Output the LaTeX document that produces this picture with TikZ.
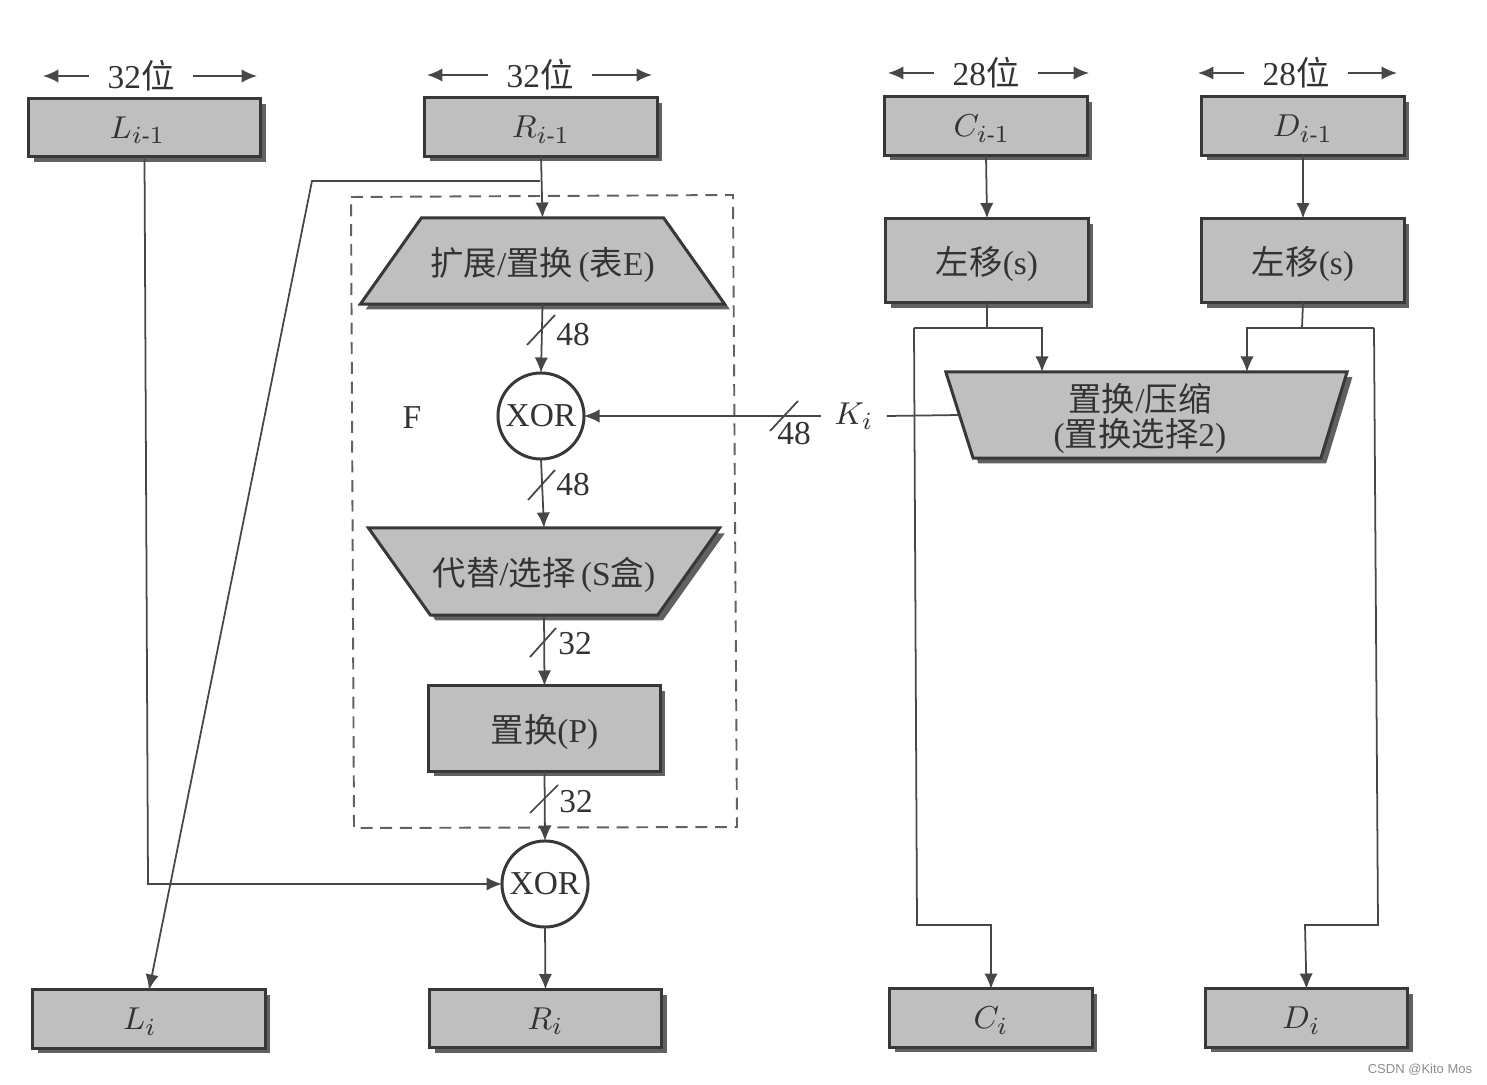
\documentclass[tikz,border=0pt]{standalone}
\usepackage{amsmath}
\usepackage{fontspec}
\setmainfont{Liberation Serif}
\newfontfamily\hzfont{Noto Sans CJK SC}
\newfontfamily\wmfont{Liberation Sans}
\newcommand{\hz}[1]{{\hzfont #1}}
\usetikzlibrary{arrows.meta,shapes.geometric,shadows}

\tikzset{
	inkline/.style={draw=black!72, line width=0.5pt},
	flow/.style={inkline, -{Latex[length=4.4pt,width=3.8pt]}},
	plate/.style={draw=black!78, line width=0.85pt, fill=black!25, text=black!80, inner sep=0pt, outer sep=0pt, text depth=0pt,
		drop shadow={shadow xshift=1.5pt, shadow yshift=-1.5pt, fill=black!62, opacity=1}},
	wordbox/.style={plate, rectangle, minimum width=2.32cm, minimum height=0.58cm},
	halfbox/.style={plate, rectangle, minimum width=2.02cm, minimum height=0.58cm},
	tallbox/.style={plate, rectangle, minimum width=2.02cm, minimum height=0.84cm},
	xorgate/.style={circle, draw=black!78, line width=0.85pt, fill=white, text=black!80, minimum size=0.86cm, inner sep=0pt, outer sep=0pt},
	widthlabel/.style={text=black!80, inner ysep=0pt, inner xsep=0.18cm},
	bitlabel/.style={text=black!80, inner sep=0pt},
}

\begin{document}
\begin{tikzpicture}[x=0.01cm, y=-0.01cm, font=\fontsize{9.5}{11}\selectfont]

	\useasboundingbox (0,0) rectangle (1487,1085);

	% Width marks
	\node[widthlabel] (wL) at (141,76) {32\hz{位}};
	\node[widthlabel] (wR) at (540,75) {32\hz{位}};
	\node[widthlabel] (wC) at (986,73) {28\hz{位}};
	\node[widthlabel] (wD) at (1296,73) {28\hz{位}};
	\coordinate (wLa) at (43,76);
	\coordinate (wLb) at (257,76);
	\coordinate (wRa) at (427,75);
	\coordinate (wRb) at (652,75);
	\coordinate (wCa) at (888,73);
	\coordinate (wCb) at (1089,73);
	\coordinate (wDa) at (1198,73);
	\coordinate (wDb) at (1397,73);
	\foreach \lab/\tipa/\tipb in {wL/wLa/wLb, wR/wRa/wRb, wC/wCa/wCb, wD/wDa/wDb}{
		\draw[flow] (\lab) -- (\tipa);
		\draw[flow] (\lab) -- (\tipb);
	}

	% F function frame
	\draw[black!62, line width=0.55pt, dash pattern=on 3.4pt off 2.2pt]
	(351,197) -- (733,195) -- (737,827) -- (354,828) -- cycle;
	\node[bitlabel] (fLabel) at (412,418) {F};

	% Top registers
	\node[wordbox] (Lold) at (144.5,127.5) {$L_{i\text{-}1}$\hspace*{0.14cm}};
	\node[wordbox] (Rold) at (541,127) {$R_{i\text{-}1}$};
	\node[halfbox] (Cold) at (986,126) {$C_{i\text{-}1}$\hspace*{0.08cm}};
	\node[halfbox] (Dold) at (1303,126) {$D_{i\text{-}1}$};

	% Left shifts
	\node[tallbox] (shiftC) at (987,260.5) {\hz{左移}(s)};
	\node[tallbox] (shiftD) at (1303,260.5) {\hz{左移}(s)};

	% Trapezoid stages
	\node[plate, trapezium, trapezium stretches=true, trapezium left angle=26.5, trapezium right angle=26.5,
	minimum width=3.65cm, minimum height=0.86cm] (expand) at (542.5,261) {\hz{扩展}/\hz{置换}\,(\hz{表}E)};
	\node[plate, trapezium, shape border rotate=180, trapezium stretches=true, trapezium left angle=25, trapezium right angle=25,
	minimum width=3.52cm, minimum height=0.87cm] (subst) at (544,571.5) {\hz{代替}/\hz{选择}\,(S\hz{盒})};
	\node[plate, trapezium, shape border rotate=180, trapezium stretches=true, trapezium left angle=77.5, trapezium right angle=77,
	minimum width=4.02cm, minimum height=0.86cm, align=center] (compress) at (1147,415)
	{\hz{置换}/\hz{压缩}\hspace*{0.14cm}\\[-1pt](\hz{置换选择}2)\hspace*{0.14cm}};
	\node[plate, rectangle, minimum width=2.31cm, minimum height=0.85cm] (perm) at (544.5,728.5) {\hz{置换}(P)};

	% XOR gates
	\node[xorgate] (xorA) at (541,416) {XOR};
	\node[xorgate] (xorB) at (545,884) {XOR};

	% Bottom registers
	\node[wordbox] (Lnew) at (149,1019) {$L_i$\hspace*{0.18cm}};
	\node[wordbox] (Rnew) at (545.5,1018.5) {$R_i$};
	\node[halfbox] (Cnew) at (991,1018) {$C_i$};
	\node[halfbox] (Dnew) at (1306.5,1018) {$D_i$\hspace*{0.1cm}};

	% Key label
	\node[bitlabel, inner xsep=0.125cm] (key) at (854,416) {$K_i$};

	% Round data path
	\coordinate (rBranch) at (540,181);
	\coordinate (rTurn) at (312,181);
	\coordinate (lTurn) at (148,884);
	\draw[flow] (Rold.south) -- (expand.north);
	\draw[flow] (rBranch) -- (rTurn) -- (Lnew.north);
	\draw[flow] (Lold.south) -- (lTurn) -- (xorB.west);
	\draw[flow] (expand.south) -- (xorA.north);
	\draw[flow] (xorA.south) -- (subst.north);
	\draw[flow] (subst.south) -- (perm.north);
	\draw[flow] (perm.south) -- (xorB.north);
	\draw[flow] (xorB.south) -- (Rnew.north);

	% Key path
	\draw[flow] (Cold.south) -- (shiftC.north);
	\draw[flow] (Dold.south) -- (shiftD.north);
	\coordinate (cBranch) at (987,328);
	\coordinate (cIn) at (1042,328);
	\coordinate (cOut) at (914,328);
	\coordinate (cLow) at (917,925);
	\coordinate (cDrop) at (991,925);
	\coordinate (dBranch) at (1302,328);
	\coordinate (dIn) at (1247,328);
	\coordinate (dOut) at (1374,328);
	\coordinate (dLow) at (1378,925);
	\coordinate (dDrop) at (1305,925);
	\draw[inkline] (shiftC.south) -- (cBranch);
	\draw[inkline] (shiftD.south) -- (dBranch);
	\draw[flow] (cOut) -- (cIn) -- (cIn |- compress.north);
	\draw[flow] (dOut) -- (dIn) -- (dIn |- compress.north);
	\draw[flow] (cOut) -- (cLow) -- (cDrop) -- (Cnew.north);
	\draw[flow] (dOut) -- (dLow) -- (dDrop) -- (Dnew.north);
	\draw[inkline] (compress.west) -- (key.east);
	\draw[flow] (key.west) -- (xorA.east);

	% Bit width slashes
	\draw[inkline] (527,345) -- (555,315);
	\draw[inkline] (528,500) -- (555,470);
	\draw[inkline] (530,657) -- (556,628);
	\draw[inkline] (530,813) -- (558,785);
	\draw[inkline] (770,431) -- (798,401);
	\node[bitlabel] (b1) at (573,335) {48};
	\node[bitlabel] (b2) at (573,485) {48};
	\node[bitlabel] (b3) at (575,644) {32};
	\node[bitlabel] (b4) at (576,802) {32};
	\node[bitlabel] (b5) at (794,434) {48};

	% Watermark
	\node[text=black!45, inner sep=0pt, font=\wmfont\fontsize{3.7}{4}\selectfont] (mark) at (1420,1070) {CSDN @Kito Mos};

\end{tikzpicture}
\end{document}
